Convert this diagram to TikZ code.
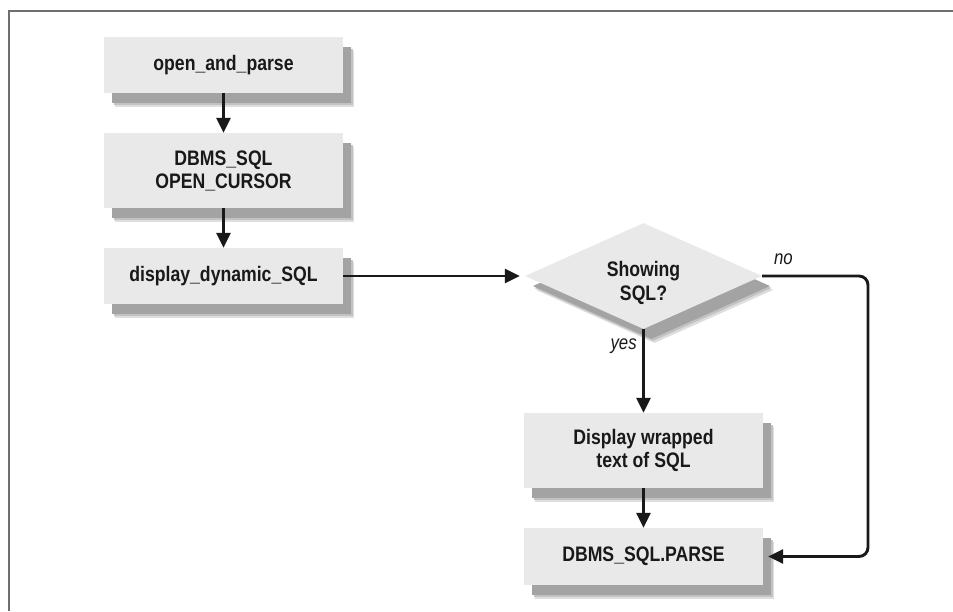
\documentclass[tikz,border=0pt]{standalone}
\usepackage{fontspec}
\setmainfont{Liberation Sans}[FakeStretch=0.84]
\usetikzlibrary{shapes.geometric,shadows,arrows.meta}
\definecolor{boxfill}{RGB}{233,233,233}
\definecolor{ink}{RGB}{25,25,25}
\definecolor{framecol}{RGB}{110,110,110}
\begin{document}
\begin{tikzpicture}[x=1pt,y=-1pt,
  softshadow/.style={
    drop shadow={shadow xshift=11pt,shadow yshift=-14pt,fill=black!13,opacity=1},
    drop shadow={shadow xshift=9.5pt,shadow yshift=-12pt,fill=black!24,opacity=1},
    drop shadow={shadow xshift=8pt,shadow yshift=-10pt,fill=black!36,opacity=1}},
  stepbox/.style={rectangle,fill=boxfill,softshadow,minimum width=239pt,
    inner sep=0pt,align=center,text=ink,font=\fontsize{21}{23}\selectfont\bfseries},
  decision/.style={diamond,fill=boxfill,softshadow,minimum width=237pt,
    minimum height=106pt,inner sep=0pt,align=center,text=ink,
    font=\fontsize{21}{23}\selectfont\bfseries},
  flow/.style={draw=ink,line width=2.9pt,-{Triangle[length=15pt,width=14pt]}},
  branch/.style={text=ink,font=\fontsize{20}{22}\selectfont\itshape}]
\useasboundingbox (0,0) rectangle (953,611);
% open frame along the top and left edges
\draw[framecol,line width=2pt] (9,611) -- (9,11) -- (953,11);

\node[stepbox,minimum height=56pt] (open) at (223.5,65) {open\_and\_parse};
\node[stepbox,minimum height=75pt] (cursor) at (223.5,170.5) {DBMS\_SQL\\OPEN\_CURSOR};
\node[stepbox,minimum height=56pt] (show) at (223.5,276) {display\_dynamic\_SQL};
\node[decision] (ask) at (643.5,276) {\raisebox{-24pt}[0pt][0pt]{\shortstack{Showing\\[1pt]SQL?}}};
\node[stepbox,minimum height=75pt] (wrap) at (643.5,450.5) {Display wrapped\\text of SQL};
\node[stepbox,minimum height=57pt] (parse) at (643.5,556.5) {DBMS\_SQL.PARSE};

\coordinate (corner) at (868,276);
\coordinate (entry) at ([xshift=5pt]parse.east);

\draw[flow] (open) -- (cursor);
\draw[flow] (cursor) -- (show);
\draw[flow,shorten >=5pt] (show.east) -- (ask.west);
\draw[flow] (ask.south) -- node[branch,left,pos=0.2,xshift=-2pt] {yes} (wrap.north);
\draw[flow] (wrap) -- (parse);
\draw[flow,line cap=butt,rounded corners=9pt] (ask.east) -- node[branch,above,pos=0.2,yshift=7pt] {no} (corner) -- (corner |- entry) -- (entry);
\end{tikzpicture}
\end{document}
